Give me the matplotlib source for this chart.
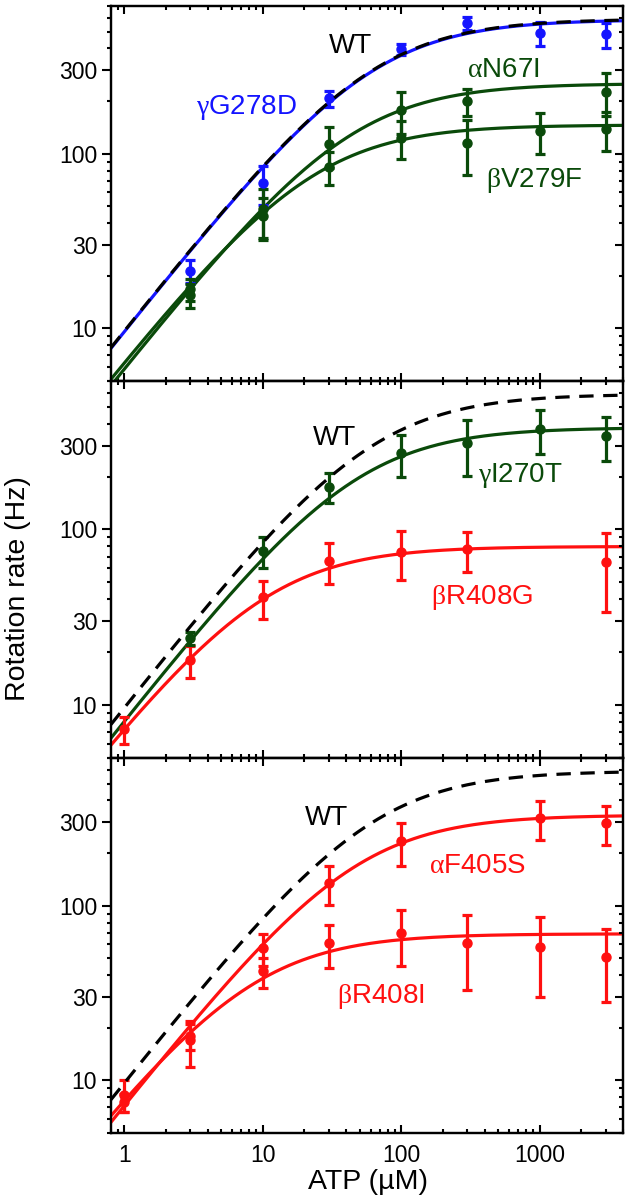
import matplotlib
matplotlib.use("Agg")
import matplotlib.pyplot as plt
import numpy as np
from matplotlib.ticker import NullFormatter

plt.rcParams["font.family"] = "Liberation Sans"
plt.rcParams["mathtext.fontset"] = "custom"
plt.rcParams["mathtext.rm"] = "Liberation Serif"

BLUE = "#1414ff"
GREEN = "#0a4a0a"
RED = "#ff1010"

# Michaelis-Menten fit parameters (Vmax in Hz, Km in uM)
wt_vmax, wt_km = 590, 60

# panel 1
g278d_x = [3, 10, 30, 100, 300, 1000, 3000]
g278d_y = [21.4, 68, 207, 395, 557, 492, 482]
g278d_err = [3.2, 17, 22, 30, 50, 77, 77]
g278d_fit = (585, 60)

n67i_x = [3, 10, 30, 100, 300, 3000]
n67i_y = [16.8, 48, 113, 177, 200, 226]
n67i_err = [2.5, 15, 30, 48, 36, 62]
n67i_fit = (252, 42)

v279f_x = [3, 10, 30, 100, 300, 1000, 3000]
v279f_y = [15.5, 44, 84, 123, 115, 135, 139]
v279f_err = [2.5, 12, 18, 30, 40, 35, 35]
v279f_fit = (146, 22)

# panel 2
i270t_x = [3, 10, 30, 100, 300, 1000, 3000]
i270t_y = [24, 75, 175, 272, 312, 373, 339]
i270t_err = [2, 15, 34, 72, 110, 105, 95]
i270t_fit = (380, 46)

r408g_x = [1, 3, 10, 30, 100, 300, 3000]
r408g_y = [7.3, 18, 41, 66.5, 74.5, 77, 65]
r408g_err = [1.3, 3.7, 10, 17.7, 23, 20, 31]
r408g_fit = (80, 10)

# panel 3
f405s_x = [1, 3, 10, 30, 100, 1000, 3000]
f405s_y = [8.3, 17, 57, 135, 233, 317, 297]
f405s_err = [1.7, 5, 12, 34, 65, 78, 75]
f405s_fit = (330, 45)

r408i_x = [1, 3, 10, 30, 100, 300, 1000, 3000]
r408i_y = [7.5, 18, 42, 61, 70, 61, 58, 51]
r408i_err = [0.9, 3, 8, 17, 25, 28, 28, 23]
r408i_fit = (69, 8)

XLIM = (0.8, 4000)
YLIM = (5, 700)
xfit = np.logspace(np.log10(XLIM[0]), np.log10(XLIM[1]), 300)


def mm(vmax, km):
    return vmax * xfit / (km + xfit)


def series(ax, x, y, err, fit, color):
    ax.plot(xfit, mm(*fit), color=color, lw=2.3, zorder=3)
    ax.errorbar(x, y, yerr=err, fmt="o", color=color, ms=6.5, elinewidth=2.3,
                capsize=3.6, capthick=2.3, zorder=4)


def wt(ax):
    ax.plot(xfit, mm(wt_vmax, wt_km), color="black", lw=2.3, ls=(0, (4.5, 3)), zorder=5)


def style(ax, show_x):
    ax.set_xscale("log")
    ax.set_yscale("log")
    ax.set_xlim(*XLIM)
    ax.set_ylim(*YLIM)
    ax.set_xticks([1, 10, 100, 1000])
    ax.set_xticklabels(["1", "10", "100", "1000"] if show_x else [])
    ax.set_yticks([10, 30, 100, 300])
    ax.set_yticklabels(["10", "30", "100", "300"])
    ax.xaxis.set_minor_formatter(NullFormatter())
    ax.yaxis.set_minor_formatter(NullFormatter())
    ax.tick_params(axis="x", which="both", direction="in", top=True, bottom=True,
                   width=1.5, labelsize=16.5, pad=8)
    ax.tick_params(axis="x", which="major", length=5.8)
    ax.tick_params(axis="x", which="minor", length=2.9)
    ax.tick_params(axis="y", which="both", direction="out", right=False,
                   width=1.5, labelsize=16.5, pad=3.5)
    ax.tick_params(axis="y", which="major", length=6.5)
    ax.tick_params(axis="y", which="minor", length=3.2)
    for s in ax.spines.values():
        s.set_linewidth(1.6)
    tw = ax.twinx()
    tw.set_yscale("log")
    tw.set_ylim(*YLIM)
    tw.set_yticks([10, 30, 100, 300])
    tw.set_yticklabels([])
    tw.yaxis.set_minor_formatter(NullFormatter())
    tw.tick_params(axis="y", which="both", direction="in", width=1.5)
    tw.tick_params(axis="y", which="major", length=5.8)
    tw.tick_params(axis="y", which="minor", length=3.2)
    for s in tw.spines.values():
        s.set_linewidth(1.6)


W, H = 629, 1204
fig = plt.figure(figsize=(W / 100, H / 100), dpi=100)
left = 111 / W
width = (623 - 111) / W
edges = [(6, 381), (381, 758), (758, 1133)]
axes = [fig.add_axes([left, 1 - b / H, width, (b - t) / H]) for t, b in edges]

lab = dict(fontsize=20, ha="center", va="center", zorder=6)

ax = axes[0]
series(ax, g278d_x, g278d_y, g278d_err, g278d_fit, BLUE)
series(ax, n67i_x, n67i_y, n67i_err, n67i_fit, GREEN)
series(ax, v279f_x, v279f_y, v279f_err, v279f_fit, GREEN)
wt(ax)
ax.text(43, 411, "WT", color="black", **lab)
ax.text(7.6, 184, r"$\mathrm{\gamma}$G278D", color=BLUE, **lab)
ax.text(546, 303, r"$\mathrm{\alpha}$N67I", color=GREEN, **lab)
ax.text(916, 70, r"$\mathrm{\beta}$V279F", color=GREEN, **lab)
style(ax, False)

ax = axes[1]
series(ax, r408g_x, r408g_y, r408g_err, r408g_fit, RED)
series(ax, i270t_x, i270t_y, i270t_err, i270t_fit, GREEN)
wt(ax)
ax.text(33, 331, "WT", color="black", **lab)
ax.text(727, 203, r"$\mathrm{\gamma}$I270T", color=GREEN, **lab)
ax.text(386, 40.8, r"$\mathrm{\beta}$R408G", color=RED, **lab)
style(ax, False)

ax = axes[2]
series(ax, f405s_x, f405s_y, f405s_err, f405s_fit, RED)
series(ax, r408i_x, r408i_y, r408i_err, r408i_fit, RED)
wt(ax)
ax.text(29, 318, "WT", color="black", **lab)
ax.text(354, 169, r"$\mathrm{\alpha}$F405S", color=RED, **lab)
ax.text(70.6, 30.2, r"$\mathrm{\beta}$R408I", color=RED, **lab)
style(ax, True)

fig.text(18 / W, 1 - 589 / H, "Rotation rate (Hz)", rotation=90, fontsize=20.5,
         ha="center", va="center")
fig.text(368 / W, 1 - 1182 / H, "ATP (\u00b5M)", fontsize=20.5, ha="center", va="center")

fig.savefig("out.png", dpi=100)
